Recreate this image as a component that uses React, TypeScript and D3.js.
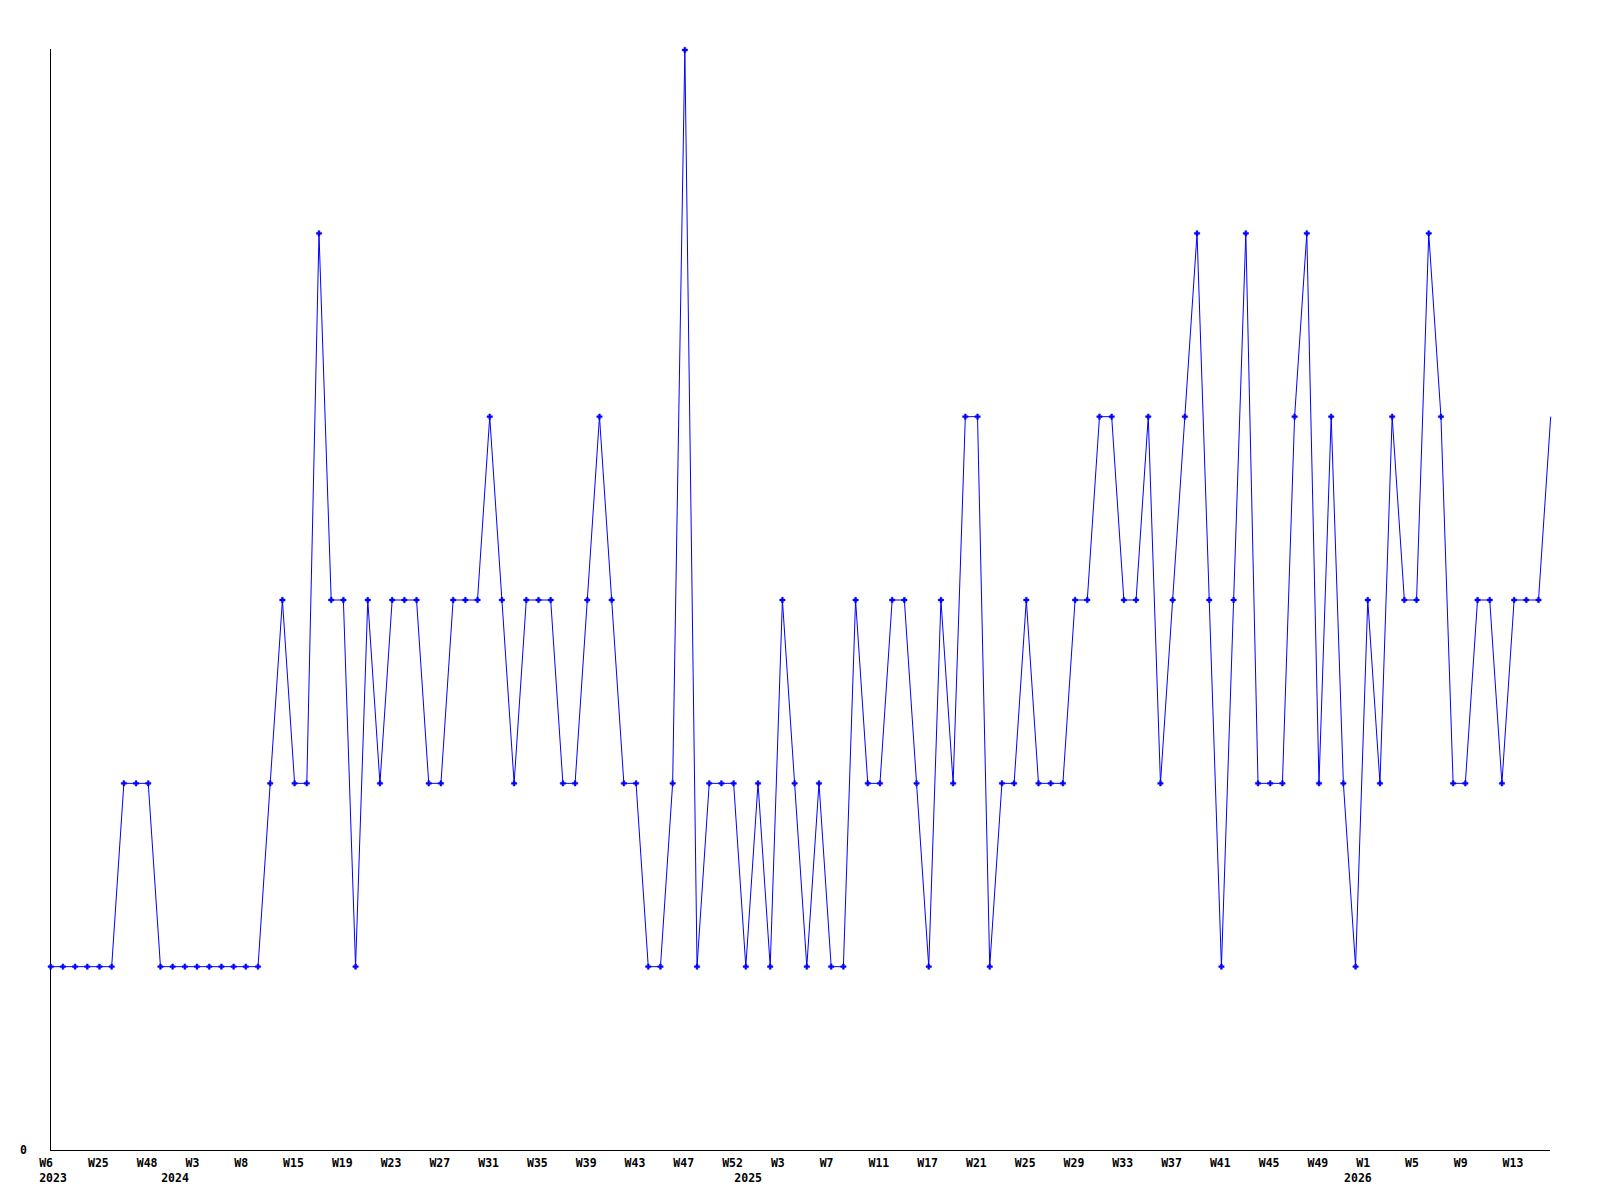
import React from "react";
import * as d3 from "d3";

// Weekly values (one per point, left to right)
const values: number[] = [
  1, 1, 1, 1, 1, 1, 2, 2, 2, 1,
  1, 1, 1, 1, 1, 1, 1, 1, 2, 3,
  2, 2, 5, 3, 3, 1, 3, 2, 3, 3,
  3, 2, 2, 3, 3, 3, 4, 3, 2, 3,
  3, 3, 2, 2, 3, 4, 3, 2, 2, 1,
  1, 2, 6, 1, 2, 2, 2, 1, 2, 1,
  3, 2, 1, 2, 1, 1, 3, 2, 2, 3,
  3, 2, 1, 3, 2, 4, 4, 1, 2, 2,
  3, 2, 2, 2, 3, 3, 4, 4, 3, 3,
  4, 2, 3, 4, 5, 3, 1, 3, 5, 2,
  2, 2, 4, 5, 2, 4, 2, 1, 3, 2,
  4, 3, 3, 5, 4, 2, 2, 3, 3, 2,
  3, 3, 3, 4,
];

// Week tick labels, one every 4 points
const tickLabels: string[] = [
  "W6", "W25", "W48", "W3", "W8", "W15", "W19", "W23", "W27", "W31",
  "W35", "W39", "W43", "W47", "W52", "W3", "W7", "W11", "W17", "W21",
  "W25", "W29", "W33", "W37", "W41", "W45", "W49", "W1", "W5", "W9", "W13",
];
const tickStep = 4;

// Year labels and the point index where each year begins
const yearLabels: string[] = ["2023", "2024", "2025", "2026"];
const yearIndices: number[] = [0, 10, 57, 107];

const yTicks: number[] = [0];

const W = 1600;
const H = 1200;
const left = 50.7;
const right = 1550.7;
const top = 50;
const bottom = 1150;
const font = "'DejaVu Sans Mono', monospace";

export default function App() {
  const x = d3
    .scalePoint<number>()
    .domain(d3.range(values.length))
    .range([left, right]);
  const y = d3.scaleLinear().domain([0, 6]).range([bottom, top]);

  const line = d3
    .line<number>()
    .x((_, i) => x(i) as number)
    .y((d) => y(d));

  const marker = d3.symbol().type(d3.symbolCross).size(16)() as string;

  return (
    <svg
      width={W}
      height={H}
      style={{ position: "absolute", left: 0, top: 0, background: "#fff" }}
    >
      <rect x={0} y={0} width={W} height={H} fill="#fff" />
      {/* axes */}
      <line
        x1={50.5}
        x2={50.5}
        y1={49}
        y2={bottom}
        stroke="#000"
        strokeWidth={1}
        shapeRendering="crispEdges"
      />
      <line
        x1={50}
        x2={1550}
        y1={bottom + 0.5}
        y2={bottom + 0.5}
        stroke="#000"
        strokeWidth={1}
        shapeRendering="crispEdges"
      />
      {yTicks.map((t) => (
        <text
          key={"y" + t}
          x={20}
          y={y(t) + 4}
          fontFamily={font}
          fontWeight="bold"
          fontSize={11.5}
          fill="#000"
        >
          {t}
        </text>
      ))}
      {tickLabels.map((lab, k) => (
        <text
          key={"t" + k}
          x={(x(k * tickStep) as number) - 11.5}
          y={1167}
          fontFamily={font}
          fontWeight="bold"
          fontSize={11.5}
          fill="#000"
        >
          {lab}
        </text>
      ))}
      {yearLabels.map((lab, k) => (
        <text
          key={"yr" + k}
          x={(x(yearIndices[k]) as number) - 11.5}
          y={1182}
          fontFamily={font}
          fontWeight="bold"
          fontSize={11.5}
          fill="#000"
        >
          {lab}
        </text>
      ))}
      {/* series */}
      <path d={line(values) as string} fill="none" stroke="#0000ff" strokeWidth={1} />
      {values.slice(0, values.length - 1).map((v, i) => (
        <path
          key={"m" + i}
          d={marker}
          transform={`translate(${x(i)},${y(v)})`}
          fill="#0000ff"
          stroke="#0000ff"
          strokeWidth={0.5}
        />
      ))}
    </svg>
  );
}
